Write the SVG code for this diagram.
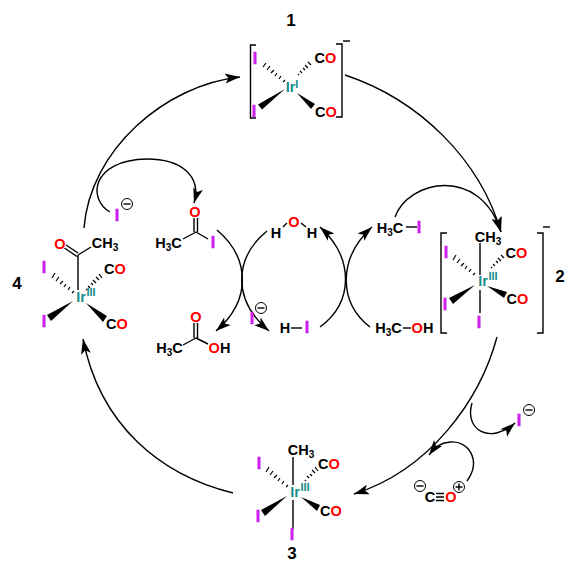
<svg xmlns="http://www.w3.org/2000/svg" width="565" height="563" viewBox="0 0 565 563">
<style>
text{font-family:"Liberation Sans",Arial,sans-serif;font-weight:700;font-size:14.500px;fill:#000;text-anchor:middle}
.i{fill:#cc22ee;stroke:#cc22ee;stroke-width:.6;font-size:16px}.o{fill:#f00}.ir{fill:#1a8c8c}.sup{font-size:11px;fill:#1a8c8c}.sub{font-size:10px}.num{font-size:17px}
.b{fill:none;stroke:#000;stroke-width:1.4}
.h{fill:none;stroke:#000;stroke-width:1.2}
.w{fill:#000;stroke:none}
.a{fill:none;stroke:#000;stroke-width:1.4;marker-end:url(#ah)}
.ring{fill:#fff;stroke:#000;stroke-width:1}
</style>
<defs>
<marker id="ah" markerUnits="userSpaceOnUse" markerWidth="18" markerHeight="14" refX="15" refY="7" orient="auto"><path d="M0,2 L15,7 L0,12 L3.500,7 Z" fill="#000"/></marker>
</defs>
<g id="connectors">
<path class="a" d="M345,75 C420,100 480,160 501,232"/>
<path class="a" d="M497,337 C480,400 430,470 354,494"/>
<path class="a" d="M233,493 C160,475 100,425 83,339"/>
<path class="a" d="M84,228 C90,150 165,85 240,77"/>
<path class="a" d="M395,217 C408,180 480,165 501,232"/>
<path class="a" d="M110,212 C88,200 90,160 147,159 C180,159 202,175 194,203"/>
<path class="a" d="M472,403 C464,430 490,445 515,423"/>
<path class="a" d="M467,481 C482,460 468,440 450,442 C440,443 435,447 429,455"/>
<path class="a" d="M217,230 C250,258 252,300 216,331"/>
<path class="a" d="M267,231 C234,258 232,300 269,331"/>
<path class="a" d="M320,327 C354,302 354,258 320,227"/>
<path class="a" d="M370,327 C338,302 338,258 372,227"/>
</g>
<g id="node-1">
<text class="num" x="291" y="26">1</text>
<path class="b" d="M256,45 H250.500 V118 H256 M336,44 H342 V117 H336"/>
<path class="b" d="M343,41 H350"/>
<path class="h" d="M283,82 L285,80 M279,79 L281,76 M275,76 L277,73 M271,73 L274,70 M267,70 L270,66 M263,67 L266,63"/>
<path class="h" d="M299,75 L298,74 M302,73 L300,71 M305,70 L303,68 M308,68 L305,65 M311,65 L308,62"/>
<path class="w" d="M285,89 L262,109.500 L258,104.500 Z"/>
<path class="w" d="M297,93 L311,109 L315,104 Z"/>
<text class="i" x="255" y="64">I</text>
<text class="i" x="254" y="117">I</text>
<text x="325.500" y="63">C<tspan class="o">O</tspan></text>
<text x="326" y="117">C<tspan class="o">O</tspan></text>
<text class="ir" x="292" y="92">Ir<tspan class="sup" dy="-4">I</tspan></text>
</g>
<g id="node-2">
<text class="num" x="560" y="282">2</text>
<path class="b" d="M447,233 H441 V333 H447 M537,233 H543 V333 H537"/>
<path class="b" d="M543,227 H550"/>
<path class="b" d="M480,243 V275 M480,290 V313"/>
<path class="h" d="M473,275 L475,273 M469,272 L471,269 M465,269 L467,266 M461,266 L464,263 M457,263 L460,259 M453,260 L456,255"/>
<path class="h" d="M492,268 L491,267 M495,266 L493,264 M498,263 L496,261 M501,261 L498,258 M504,258 L501,255"/>
<path class="w" d="M475,285 L453,304 L449,298 Z"/>
<path class="w" d="M487,286 L504,298 L507,292 Z"/>
<text class="i" x="446" y="258">I</text>
<text class="i" x="445" y="310">I</text>
<text class="i" x="479" y="328">I</text>
<text x="488" y="242">CH<tspan class="sub" dy="3">3</tspan></text>
<text x="516.500" y="258">C<tspan class="o">O</tspan></text>
<text x="517.500" y="304">C<tspan class="o">O</tspan></text>
<text class="ir" x="483" y="286">Ir</text>
<text class="sup" x="493" y="280">III</text>
</g>
<g id="node-3">
<text class="num" x="292" y="559">3</text>
<path class="b" d="M293,457 V485 M293,500 V529"/>
<path class="h" d="M286,487 L288,485 M282,484 L284,481 M278,481 L280,478 M274,478 L277,475 M270,475 L273,471 M266,472 L269,467"/>
<path class="h" d="M306,481 L305,480 M309,478 L307,476 M312,476 L310,474 M315,473 L312,470 M318,471 L315,467"/>
<path class="w" d="M287,496 L265,516 L261,510 Z"/>
<path class="w" d="M301,497 L317,511 L320,505 Z"/>
<text class="i" x="259" y="469">I</text>
<text class="i" x="258" y="522">I</text>
<text class="i" x="292" y="540">I</text>
<text x="301" y="455">CH<tspan class="sub" dy="3">3</tspan></text>
<text x="329" y="469">C<tspan class="o">O</tspan></text>
<text x="331" y="516">C<tspan class="o">O</tspan></text>
<text class="ir" x="295" y="497">Ir</text>
<text class="sup" x="305" y="491">III</text>
</g>
<g id="node-4">
<text class="num" x="17" y="289">4</text>
<path class="b" d="M78,255 V290 M78,255 L91,247 M66,245 L78,253 M64.500,248 L77,256.500"/>
<path class="h" d="M72,293 L74,291 M68,290 L70,287 M64,287 L66,284 M60,284 L63,281 M56,281 L59,277 M52,278 L55,273"/>
<path class="h" d="M87,290 L86,289 M90,288 L88,286 M93,285 L91,283 M96,283 L93,280 M99,280 L96,277 M102,278 L99,274"/>
<path class="w" d="M73,301 L51,321 L47,315 Z"/>
<path class="w" d="M86,303 L103,322 L107,316 Z"/>
<text x="60" y="249" class="o">O</text>
<text x="105" y="248">CH<tspan class="sub" dy="3">3</tspan></text>
<text class="i" x="44" y="273">I</text>
<text class="i" x="44" y="327">I</text>
<text x="115" y="274">C<tspan class="o">O</tspan></text>
<text x="117" y="329">C<tspan class="o">O</tspan></text>
<text class="ir" x="81" y="302">Ir</text>
<text class="sup" x="91" y="296">III</text>
</g>
<g id="iodide-a">
<text class="i" x="117" y="221">I</text>
<circle class="ring" cx="127" cy="204" r="5.500"/><path class="b" d="M123.500,204 H130.500"/>
</g>
<g id="acetyl-iodide">
<text class="o" x="195" y="217">O</text>
<text x="168.500" y="248">H<tspan class="sub" dy="3">3</tspan><tspan dy="-3">C</tspan></text>
<text class="i" x="213" y="248">I</text>
<path class="b" d="M194,218 V232 M197.500,218 V232 M196,232 L183,239 M196,232 L208,239"/>
</g>
<g id="acetic-acid">
<text class="o" x="196" y="322">O</text>
<text x="169.500" y="353">H<tspan class="sub" dy="3">3</tspan><tspan dy="-3">C</tspan></text>
<text x="219.500" y="353"><tspan class="o">O</tspan>H</text>
<path class="b" d="M194,323 V338 M197.500,323 V338 M196,338 L183,345 M196,338 L208,344"/>
</g>
<g id="iodide-b">
<text class="i" x="252" y="324">I</text>
<circle class="ring" cx="261" cy="308" r="5.500"/><path class="b" d="M257.500,308 H264.500"/>
</g>
<g id="water">
<text x="276" y="238">H</text><text class="o" x="294" y="227">O</text><text x="312" y="238">H</text>
<path class="b" d="M283,227 L287,223 M301,223 L306,227"/>
</g>
<g id="hi">
<text x="285" y="333">H</text><text class="i" x="307" y="333">I</text>
<path class="b" d="M291,328 H302"/>
</g>
<g id="methanol">
<text x="388.500" y="333">H<tspan class="sub" dy="3">3</tspan><tspan dy="-3">C</tspan></text>
<text x="422.500" y="333"><tspan class="o">O</tspan>H</text>
<path class="b" d="M403,328 H411"/>
</g>
<g id="methyl-iodide">
<text x="390" y="233">H<tspan class="sub" dy="3">3</tspan><tspan dy="-3">C</tspan></text>
<text class="i" x="419" y="233">I</text>
<path class="b" d="M406,227 H417"/>
</g>
<g id="iodide-c">
<text class="i" x="519" y="426">I</text>
<circle class="ring" cx="529" cy="410" r="5.500"/><path class="b" d="M525.500,410 H532.500"/>
</g>
<g id="co">
<text x="430" y="502">C</text><text class="o" x="451" y="502">O</text>
<path class="b" d="M436,493.500 H444 M436,497 H444 M436,500.500 H444"/>
<circle class="ring" cx="420" cy="486" r="5.500"/><path class="b" d="M416.500,486 H423.500"/>
<circle class="ring" cx="459" cy="487" r="5.500"/><path class="b" d="M455.500,487 H462.500 M459,483.500 V490.500"/>
</g>
</svg>
